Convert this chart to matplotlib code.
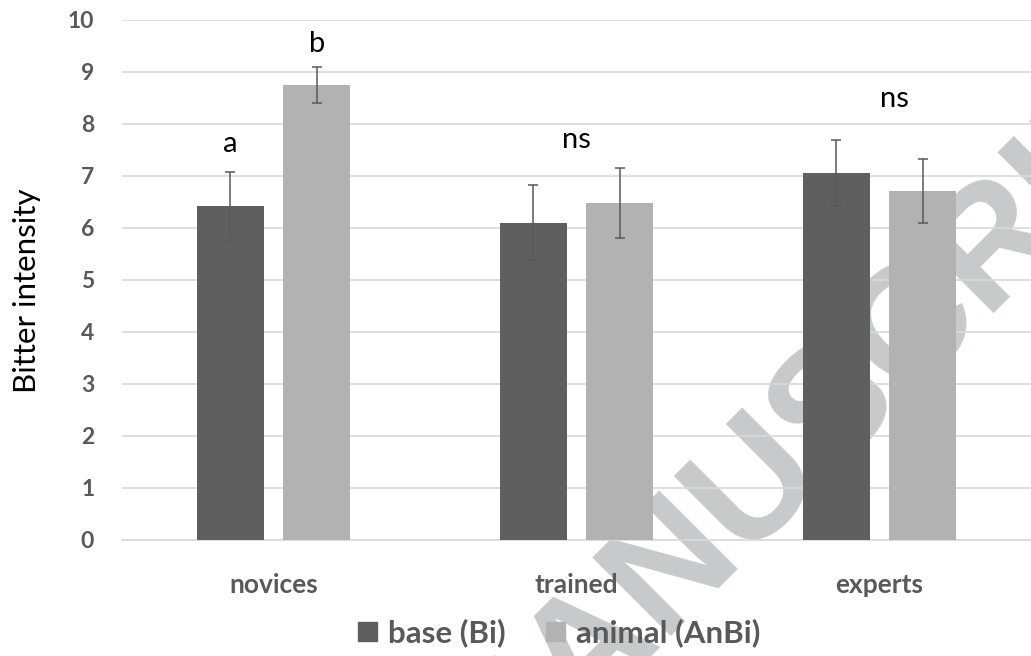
import numpy as np
import matplotlib.pyplot as plt
from matplotlib.patches import Patch

groups = ['novices', 'trained', 'experts']
base = [6.42, 6.10, 7.06]
base_err = [0.66, 0.72, 0.64]
animal = [8.75, 6.48, 6.71]
animal_err = [0.34, 0.67, 0.61]
series_names = ['base (Bi)', 'animal (AnBi)']

# significance letters: (text, x in group units, baseline y)
letters = ['a', 'b', 'ns', 'ns']
letter_x = [-0.143, 0.143, 1.0, 2.05]
letter_y = [7.46, 9.38, 7.54, 8.33]

DARK = '#5f5f5f'
LIGHT = '#b2b2b2'
TXT = '#595959'

plt.rcParams['font.family'] = ['Lato', 'DejaVu Sans']

fig = plt.figure(figsize=(10.31, 6.56), dpi=100)
ax = fig.add_axes([122 / 1031, 1 - 540 / 656, (1031 - 122) / 1031, 520 / 656])

# watermark behind everything
fig.text(508 / 1031, 1 - 740 / 656, 'ACCEPTED MANUSCRIPT', rotation=45,
         fontsize=116, family='Liberation Sans', fontweight='bold',
         color='#c8c9cb', ha='center', va='center',
         rotation_mode='anchor', zorder=-1)

x = np.arange(len(groups))
w = 0.22
off = 0.143
ekw = dict(ecolor=TXT, elinewidth=1.1, capsize=3.5, capthick=1.1)
ax.bar(x - off, base, w, yerr=base_err, color=DARK, error_kw=ekw, zorder=3)
ax.bar(x + off, animal, w, yerr=animal_err, color=LIGHT, error_kw=ekw, zorder=3)

for t, lx, ly in zip(letters, letter_x, letter_y):
    ax.text(lx, ly, t, ha='center', va='baseline', fontsize=21, color='black')

ax.set_xlim(-0.5, 2.5)
ax.set_ylim(0, 10)
ax.set_yticks(range(0, 11))
ax.set_xticks(x)
ax.set_xticklabels(groups)
ax.tick_params(axis='y', length=0, pad=20, labelsize=16.5, labelcolor=TXT)
ax.tick_params(axis='x', length=0, pad=24, labelsize=19, labelcolor=TXT)
for lab in ax.get_xticklabels() + ax.get_yticklabels():
    lab.set_fontweight('bold')

ax.grid(axis='y', color='#d9d9d9', linewidth=1.2, zorder=0)
ax.set_axisbelow(True)
for s in ['top', 'right', 'left']:
    ax.spines[s].set_visible(False)
ax.spines['bottom'].set_color('#d9d9d9')
ax.spines['bottom'].set_linewidth(1.2)
ax.patch.set_alpha(0)

fig.text(27 / 1031, 1 - 291 / 656, 'Bitter intensity', rotation=90,
         ha='center', va='center', fontsize=22.5, color='black')

handles = [Patch(color=DARK), Patch(color=LIGHT)]
leg = fig.legend(handles, series_names, loc='center', ncol=2,
                 bbox_to_anchor=(559 / 1031, 1 - 633 / 656), frameon=False,
                 prop={'size': 22.5, 'weight': 'bold'}, handlelength=0.6,
                 handleheight=0.6, handletextpad=0.35, columnspacing=1.3)
for t in leg.get_texts():
    t.set_color(TXT)

fig.savefig('out.png', dpi=100)
